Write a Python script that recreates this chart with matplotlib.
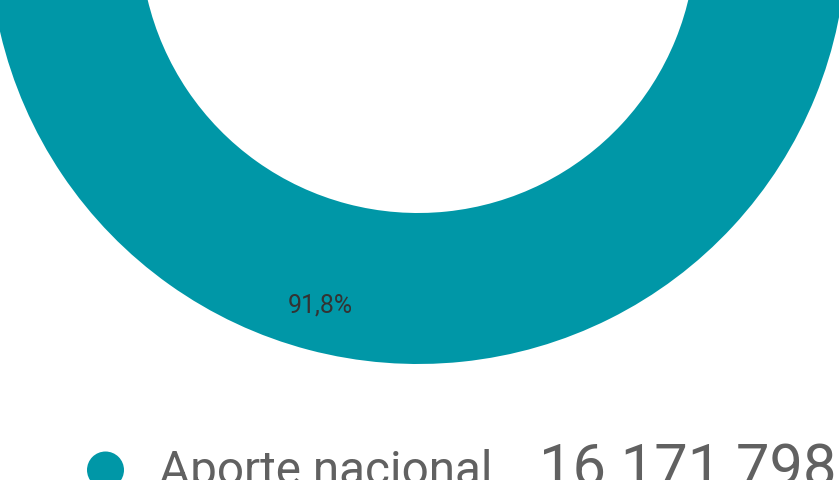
import matplotlib
matplotlib.use("Agg")
import matplotlib.pyplot as plt
from matplotlib.patches import Circle

plt.rcParams['font.family'] = ['Roboto', 'DejaVu Sans']

# Data
categories = ["Otros aportes", "Aporte nacional"]
values = [1444000, 16171798]
colors = ["#F4A51C", "#0097A7"]
legend_label = "Aporte nacional"
legend_value = "16 171 798"

W, H = 839, 480
fig = plt.figure(figsize=(W / 100, H / 100), dpi=100)
ax = fig.add_axes([0, 0, 1, 1])

# donut geometry (pixel units, y up)
cx, cy = 418, H + 65
r_out, r_in = 429, 278

wedges, texts = ax.pie(
    values, colors=colors, startangle=90, counterclock=False,
    center=(cx, cy), radius=r_out, frame=True,
    wedgeprops=dict(width=r_out - r_in, linewidth=0))
ax.set_xlim(0, W)
ax.set_ylim(0, H)
ax.axis('off')
ax.set_aspect('auto')

renderer = fig.canvas.get_renderer()

def fit(txt, target_w):
    txt.set_fontsize(10)
    w = txt.get_window_extent(renderer).width
    fs = 10 * target_w / w
    txt.set_fontsize(fs)
    return fs

# percentage label for the visible slice, placed at the slice's mid-angle
import numpy as np
total = sum(values)
start_frac = values[0] / total
mid = np.deg2rad(90 - 360 * (start_frac + values[1] / total / 2))
r_lab = 383
pct = f"{100 * values[1] / total:.1f}".replace('.', ',') + "%"
tl = ax.text(cx + r_lab * np.cos(mid), cy + r_lab * np.sin(mid), pct,
             color="#333333", ha='center', va='center')
fit(tl, 65)

# legend
ax.add_patch(Circle((105.5, H - 470), 18.5, color=colors[1], lw=0))
t1 = ax.text(159, 0, legend_label, color="#616161", ha='left', va='baseline')
fs1 = fit(t1, 334)
t1.set_position((159, H - (450.7 + 0.711 * fs1 * 100 / 72)))
t2 = ax.text(539, 0, legend_value, color="#616161", ha='left', va='baseline')
fs2 = fit(t2, 296)
t2.set_position((539, H - (444 + 0.711 * fs2 * 100 / 72)))

fig.savefig("out.png", dpi=100)
